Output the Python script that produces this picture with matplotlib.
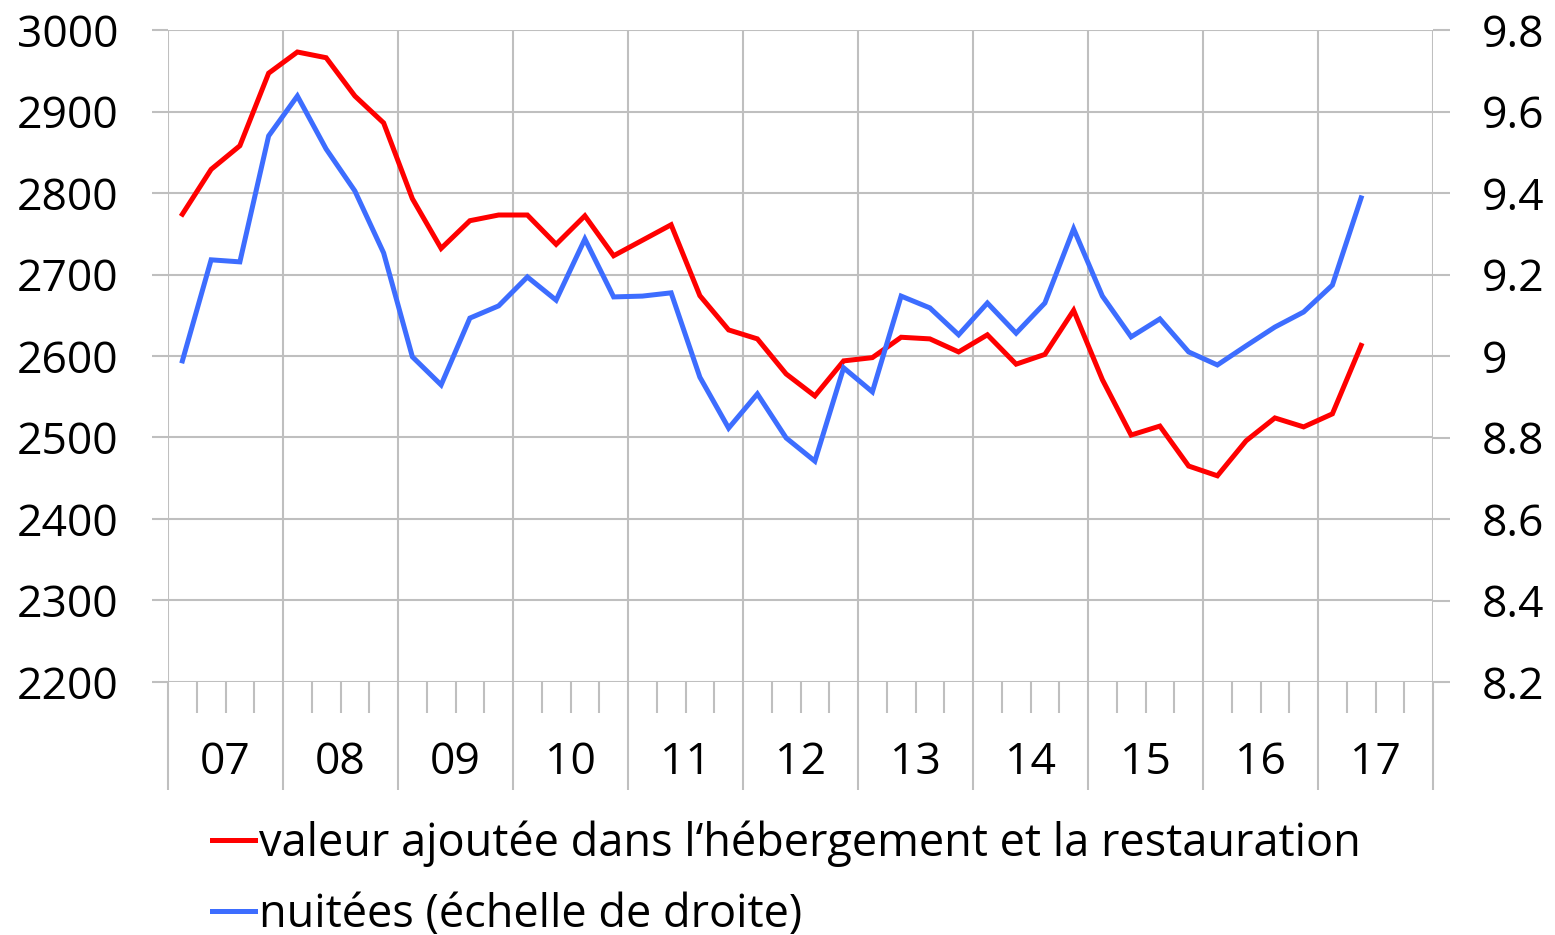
import numpy as np
import matplotlib
matplotlib.use("Agg")
import matplotlib.pyplot as plt
from matplotlib.lines import Line2D
from matplotlib.ticker import FuncFormatter

plt.rcParams['font.family'] = ['Open Sans', 'DejaVu Sans']

# quarterly data, 2007Q1 .. 2017Q2
years = ['07', '08', '09', '10', '11', '12', '13', '14', '15', '16', '17']
valeur_ajoutee = [2774, 2829, 2858, 2947, 2973, 2966, 2919, 2886,
                  2793, 2732, 2766, 2773, 2773, 2737, 2772, 2723,
                  2742, 2761, 2674, 2632, 2621, 2578, 2551, 2594,
                  2598, 2623, 2621, 2605, 2626, 2590, 2602, 2656,
                  2571, 2503, 2514, 2465, 2453, 2496, 2524, 2513,
                  2529, 2613]
nuitees = [8.988, 9.236, 9.231, 9.540, 9.638, 9.508, 9.405, 9.253,
           8.998, 8.929, 9.093, 9.123, 9.194, 9.137, 9.287, 9.145,
           9.147, 9.155, 8.948, 8.823, 8.907, 8.799, 8.742, 8.971,
           8.912, 9.147, 9.118, 9.052, 9.130, 9.056, 9.130, 9.312,
           9.147, 9.047, 9.091, 9.010, 8.978, 9.025, 9.071, 9.108,
           9.174, 9.388]
label_red = "valeur ajoutée dans l\u2018hébergement et la restauration"
label_blue = "nuitées (échelle de droite)"

grid_c = '#bfbfbf'
red = '#ff0000'
blue = '#3d6dff'
fs = 32

fig = plt.figure(figsize=(15.55, 9.35), dpi=100)
ax = fig.add_axes([168/1555, 1 - 682/935, (1433 - 168)/1555, (682 - 30)/935])
ax2 = ax.twinx()

x = np.arange(len(valeur_ajoutee))
ax.plot(x, valeur_ajoutee, color=red, lw=3.6, solid_joinstyle='miter', zorder=3)
ax2.plot(x, nuitees, color=blue, lw=3.6, solid_joinstyle='miter', zorder=3)

nq = 4 * len(years)
ax.set_xlim(-0.5, nq - 0.5)
ax.set_ylim(2200, 3000)
ax2.set_ylim(8.2, 9.8)
ax.set_yticks(np.arange(2200, 3001, 100))
ax2.set_yticks(np.arange(8.2, 9.81, 0.2))
ax2.yaxis.set_major_formatter(FuncFormatter(lambda v, p: f'{v:g}'))

ax.set_xticks(np.arange(-0.5, nq, 4))
ax.set_xticks(np.arange(-0.5, nq, 1), minor=True)
ax.set_xticklabels([])

for a in (ax, ax2):
    for s in a.spines.values():
        s.set_visible(False)

ax.grid(True, which='major', color=grid_c, lw=1.5)
ax.set_axisbelow(True)
ax.tick_params(axis='x', which='major', length=78, width=1.5, color=grid_c)
ax.tick_params(axis='x', which='minor', length=22, width=1.5, color=grid_c)
ax.tick_params(axis='y', length=11.5, width=1.5, color=grid_c, labelsize=fs, pad=24)
ax2.tick_params(axis='y', length=12, width=1.5, color=grid_c, labelsize=fs, pad=23)

for i, yr in enumerate(years):
    ax.annotate(yr, xy=(4 * i + 1.5, 0), xycoords=('data', 'axes fraction'),
                xytext=(0, -58), textcoords='offset points',
                ha='center', va='center', fontsize=fs)

handles = [Line2D([], [], color=red, lw=3.6), Line2D([], [], color=blue, lw=3.6)]
fig.legend(handles, [label_red, label_blue], loc='center left',
           bbox_to_anchor=(212/1555, 1 - 879/935), frameon=False,
           fontsize=32.5, handlelength=0.95, handletextpad=0.1,
           labelspacing=0.55, borderaxespad=0, borderpad=0)

fig.savefig('out.png', dpi=100)
